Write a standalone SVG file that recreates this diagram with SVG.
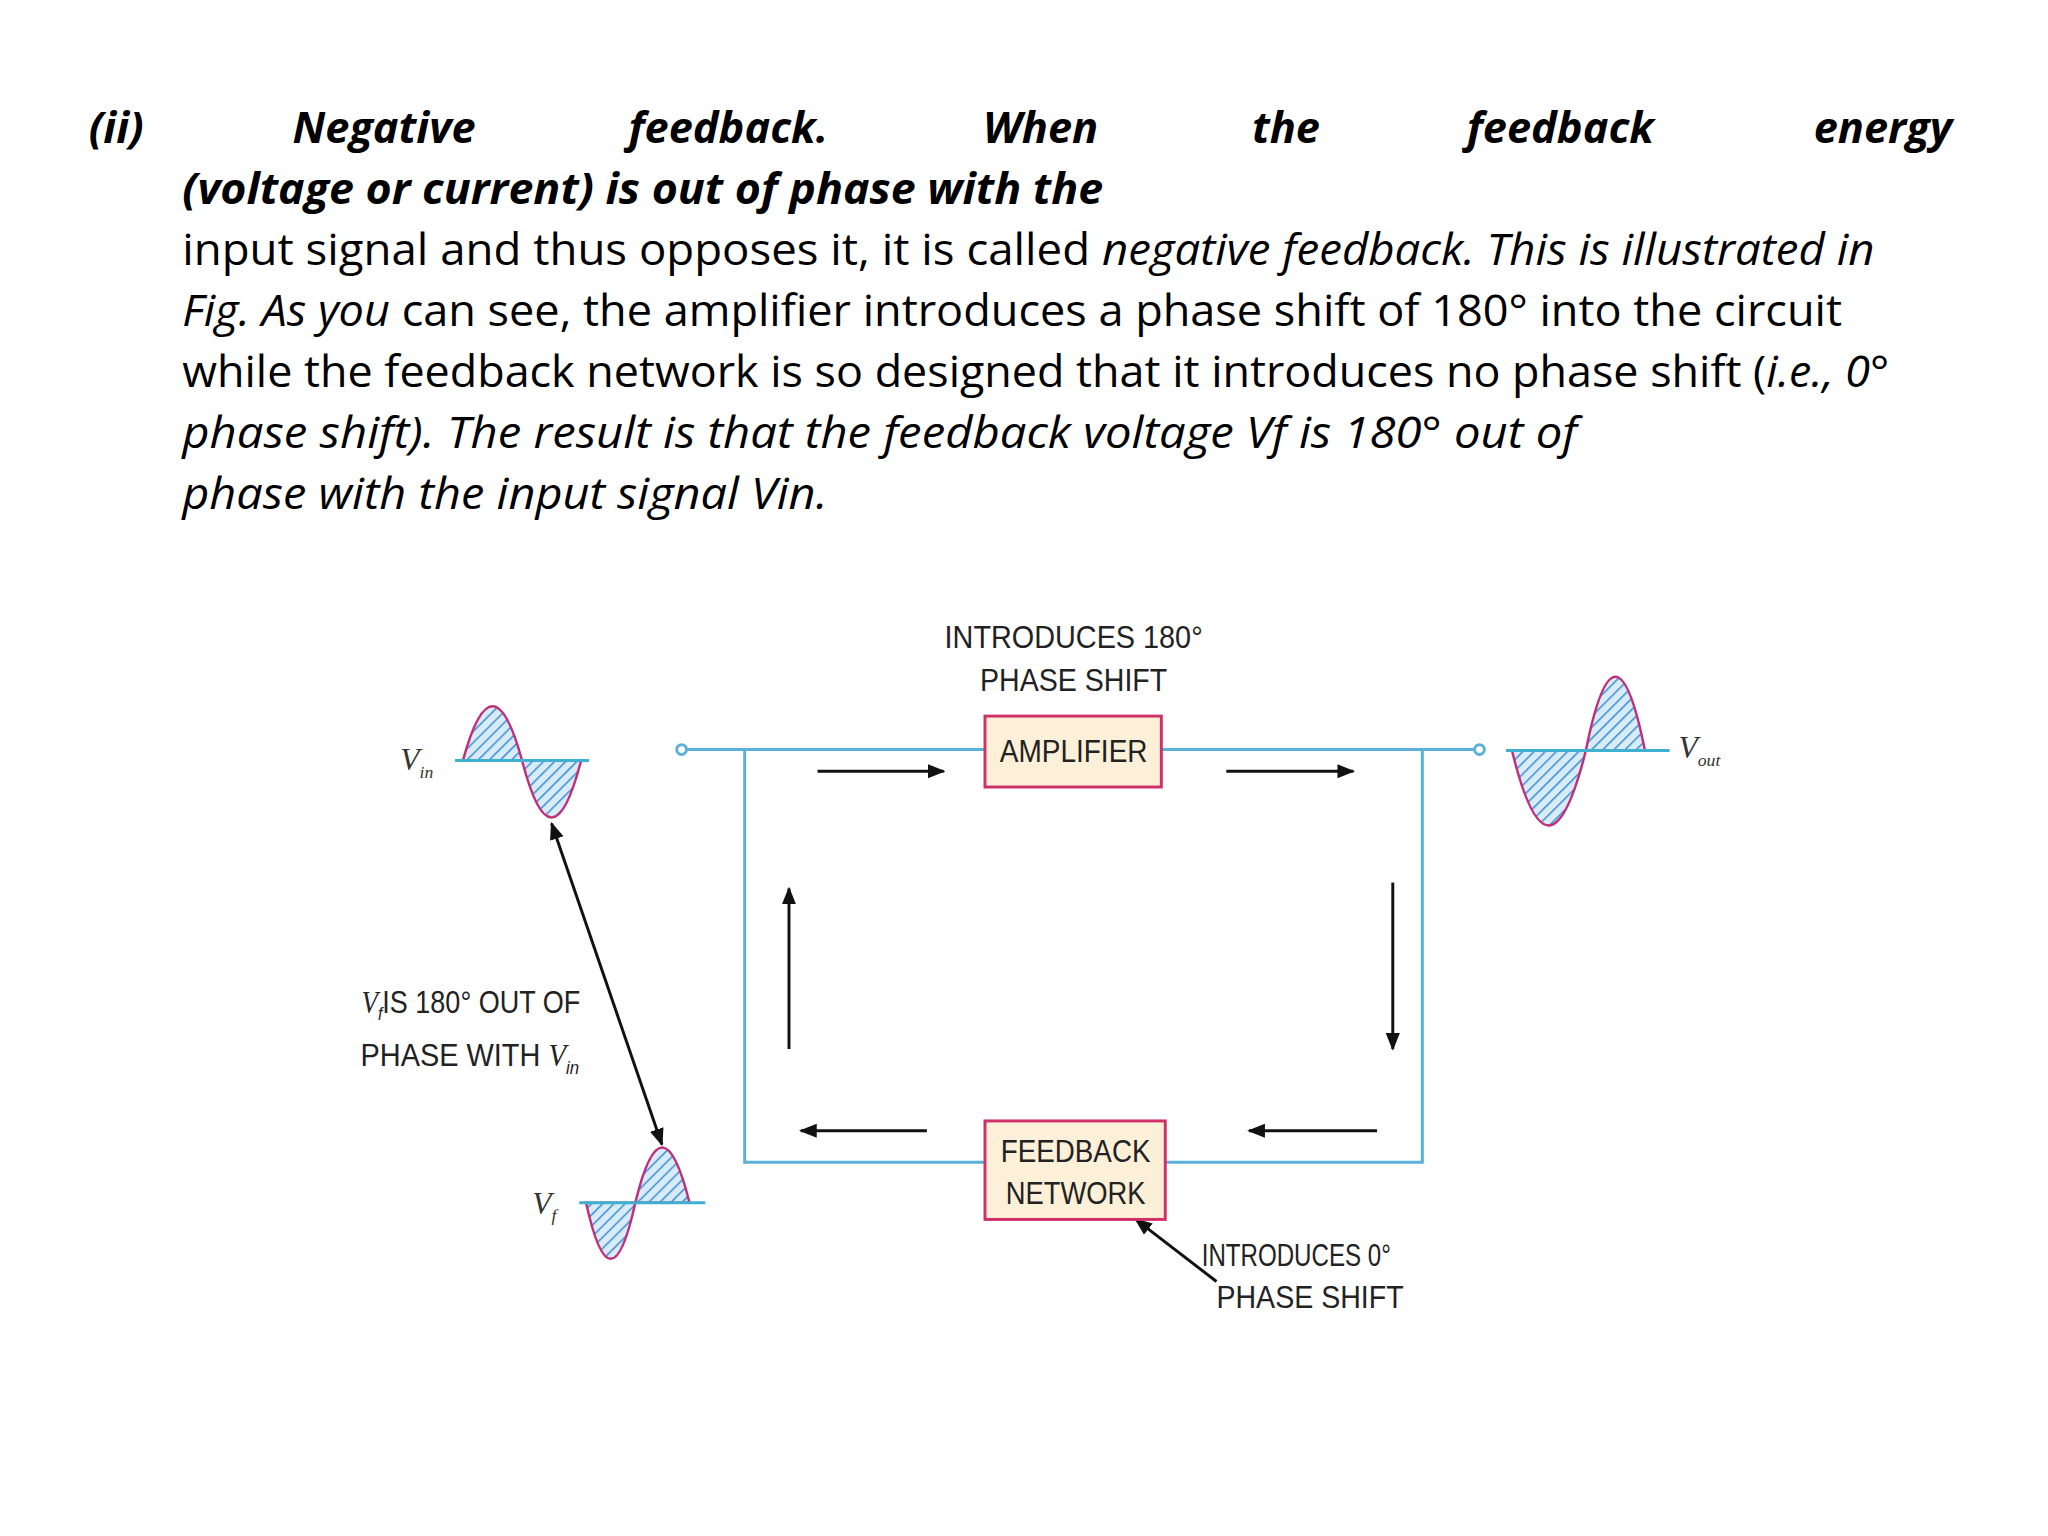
<svg xmlns="http://www.w3.org/2000/svg" width="2048" height="1536" viewBox="0 0 2048 1536">
<style>
.p{font-family:"Open Sans","Liberation Sans",sans-serif;font-size:44px;fill:#000}
.bi{font-weight:bold;font-style:italic}
.i{font-style:italic}
.d{font-family:"Liberation Sans",Arial,sans-serif;font-size:31px;fill:#222;text-anchor:middle}
.w{stroke:#5ab0d8;stroke-width:3;fill:none}
.a{stroke:#111;stroke-width:3;fill:none}
.box{stroke:#d0306a;stroke-width:3;fill:#fdf0d8}
.s{stroke:#c0307a;stroke-width:2.5;fill:url(#h)}
.ax{stroke:#40b0d0;stroke-width:3}
</style>
<defs>
<pattern id="h" width="8" height="8" patternUnits="userSpaceOnUse" patternTransform="rotate(45)">
<rect width="8" height="8" fill="#d8ecf8"/><line x1="0" y1="0" x2="0" y2="8" stroke="#3a8ad0" stroke-width="3"/>
</pattern>
<marker id="m" viewBox="0 0 10 10" refX="9" refY="5" markerWidth="6" markerHeight="6" orient="auto-start-reverse"><path d="M0,1 L10,5 L0,9 z" fill="#111"/></marker>
</defs>
<rect width="2048" height="1536" fill="#fff"/>
<g transform="scale(0.985)">
<g id="paragraph">
<text class="p bi" x="90" y="145">(ii)</text>
<text class="p bi" x="297" y="145">Negative</text>
<text class="p bi" x="638" y="145">feedback.</text>
<text class="p bi" x="998" y="145">When</text>
<text class="p bi" x="1271" y="145">the</text>
<text class="p bi" x="1489" y="145">feedback</text>
<text class="p bi" x="1982" y="145" text-anchor="end">energy</text>
<text class="p bi" x="185" y="207" textLength="935" lengthAdjust="spacingAndGlyphs">(voltage or current) is out of phase with the</text>
<text class="p" x="185" y="269" textLength="1718" lengthAdjust="spacingAndGlyphs">input signal and thus opposes it, it is called <tspan class="i">negative feedback. This is illustrated in</tspan></text>
<text class="p" x="185" y="331" textLength="1685" lengthAdjust="spacingAndGlyphs"><tspan class="i">Fig. As you</tspan> can see, the amplifier introduces a phase shift of 180° into the circuit</text>
<text class="p" x="185" y="393" textLength="1733" lengthAdjust="spacingAndGlyphs">while the feedback network is so designed that it introduces no phase shift (<tspan class="i">i.e., 0°</tspan></text>
<text class="p i" x="185" y="455" textLength="1416" lengthAdjust="spacingAndGlyphs">phase shift). The result is that the feedback voltage Vf is 180° out of</text>
<text class="p i" x="185" y="517" textLength="655" lengthAdjust="spacingAndGlyphs">phase with the input signal Vin.</text>
</g>
<g id="connectors">
<path class="w" d="M698,761 H1000 M1179,761 H1496 M756,761 V1180 H1000 M1183,1180 H1444 V761"/>
<circle cx="692" cy="761" r="5" fill="#fff" stroke="#5ab0d8" stroke-width="3"/>
<circle cx="1502" cy="761" r="5" fill="#fff" stroke="#5ab0d8" stroke-width="3"/>
<line class="a" x1="830" y1="783" x2="958" y2="783" marker-end="url(#m)"/>
<line class="a" x1="1245" y1="783" x2="1374" y2="783" marker-end="url(#m)"/>
<line class="a" x1="801" y1="1065" x2="801" y2="902" marker-end="url(#m)" stroke-width="2"/>
<line class="a" x1="1414" y1="896" x2="1414" y2="1065" marker-end="url(#m)" stroke-width="2"/>
<line class="a" x1="941" y1="1148" x2="813" y2="1148" marker-end="url(#m)"/>
<line class="a" x1="1398" y1="1148" x2="1268" y2="1148" marker-end="url(#m)"/>
<line class="a" x1="560" y1="836" x2="672" y2="1162" marker-start="url(#m)" marker-end="url(#m)" stroke-width="2"/>
<line class="a" x1="1235" y1="1301" x2="1153" y2="1238" marker-end="url(#m)" stroke-width="2"/>
</g>
<g id="amplifier">
<rect class="box" x="1000" y="727" width="179" height="72"/>
<text class="d" x="1090" y="774" textLength="150" lengthAdjust="spacingAndGlyphs">AMPLIFIER</text>
<text class="d" x="1090" y="658" textLength="262" lengthAdjust="spacingAndGlyphs">INTRODUCES 180°</text>
<text class="d" x="1090" y="702" textLength="190" lengthAdjust="spacingAndGlyphs">PHASE SHIFT</text>
</g>
<g id="feedback">
<rect class="box" x="1000" y="1138" width="183" height="100"/>
<text class="d" x="1092" y="1180" textLength="152" lengthAdjust="spacingAndGlyphs">FEEDBACK</text>
<text class="d" x="1092" y="1222" textLength="142" lengthAdjust="spacingAndGlyphs">NETWORK</text>
<text class="d" x="1316" y="1285" textLength="192" lengthAdjust="spacingAndGlyphs">INTRODUCES 0°</text>
<text class="d" x="1330" y="1328" textLength="190" lengthAdjust="spacingAndGlyphs">PHASE SHIFT</text>
</g>
<g id="vin">
<path class="s" d="M470,772 Q500,662 530,772 Z"/>
<path class="s" d="M530,772 Q560,888 590,772 Z"/>
<line class="ax" x1="462" y1="772" x2="598" y2="772"/>
<text x="440" y="782" font-family="Liberation Serif,serif" font-style="italic" font-size="32" fill="#333" text-anchor="end">V<tspan font-size="18" dy="8">in</tspan></text>
</g>
<g id="vout">
<path class="s" d="M1535,762 Q1572,914 1610,762 Z"/>
<path class="s" d="M1610,762 Q1640,612 1670,762 Z"/>
<line class="ax" x1="1529" y1="762" x2="1695" y2="762"/>
<text x="1704" y="770" font-family="Liberation Serif,serif" font-style="italic" font-size="32" fill="#333">V<tspan font-size="18" dy="8">out</tspan></text>
</g>
<g id="vf">
<path class="s" d="M595,1221 Q620,1335 645,1221 Z"/>
<path class="s" d="M645,1221 Q672,1109 700,1221 Z"/>
<line class="ax" x1="588" y1="1221" x2="716" y2="1221"/>
<text x="565" y="1232" font-family="Liberation Serif,serif" font-style="italic" font-size="32" fill="#333" text-anchor="end">V<tspan font-size="18" dy="8">f</tspan></text>
<text class="d" x="478" y="1028" textLength="222" lengthAdjust="spacingAndGlyphs"><tspan font-family="Liberation Serif,serif" font-style="italic">V</tspan><tspan font-size="18" dy="8" font-style="italic">f</tspan><tspan dy="-8">IS 180° OUT OF</tspan></text>
<text class="d" x="477" y="1082" textLength="222" lengthAdjust="spacingAndGlyphs">PHASE WITH <tspan font-family="Liberation Serif,serif" font-style="italic">V</tspan><tspan font-size="18" dy="8" font-style="italic">in</tspan></text>
</g>
</g>
</svg>
